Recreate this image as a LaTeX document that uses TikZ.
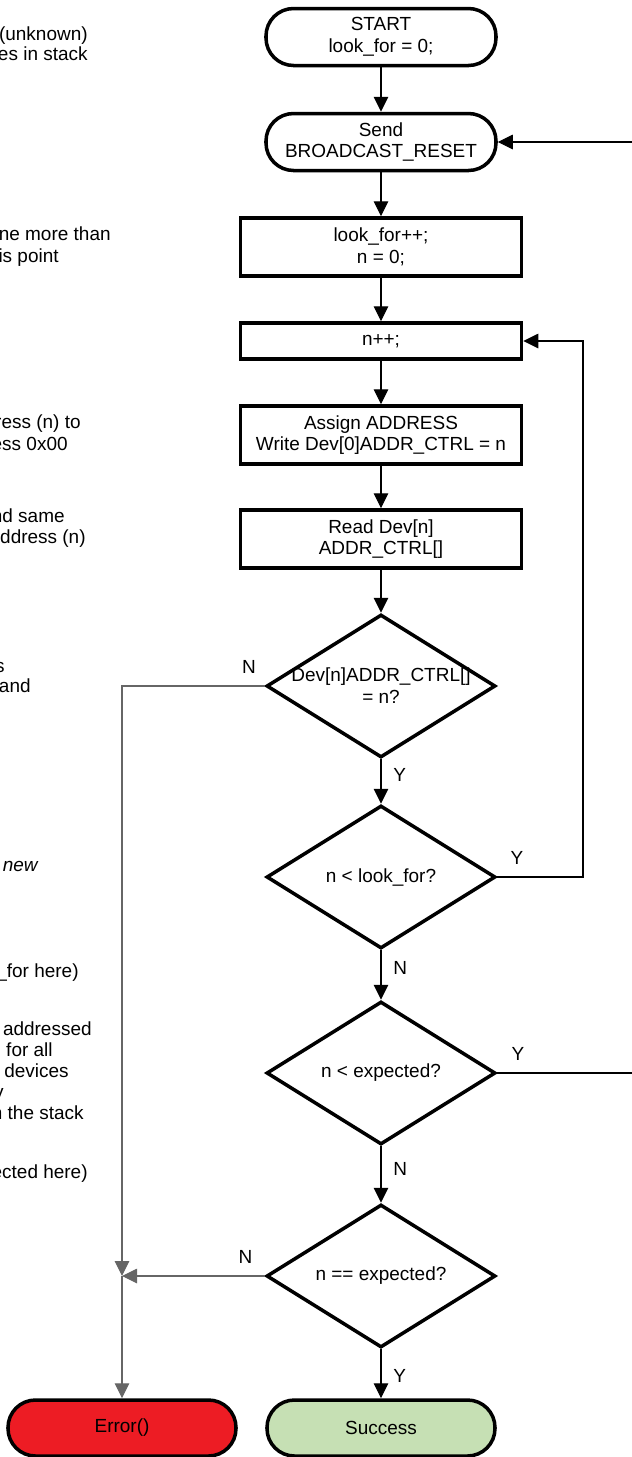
\documentclass[tikz,border=0pt]{standalone}
\usepackage{fontspec}
\setmainfont{Liberation Sans}
\usetikzlibrary{positioning,arrows.meta,shapes.geometric,calc}

\definecolor{errred}{RGB}{237,28,36}
\definecolor{okgreen}{RGB}{198,224,180}

\begin{document}
\begin{tikzpicture}[
    font=\fontsize{10.8}{12.4}\selectfont,
    terminal/.style={draw, line width=2pt, rounded corners=0.55cm, minimum width=4.6cm, minimum height=1.14cm, align=center},
    process/.style={draw, line width=2pt, minimum width=5.62cm, minimum height=1.16cm, align=center},
    decision/.style={draw, diamond, line width=2pt, minimum width=4.58cm, minimum height=2.86cm, aspect=1.6, inner sep=-2pt, align=center},
    arrow/.style={-{Triangle[length=0.3cm, width=0.29cm]}, line width=0.6pt},
    errline/.style={arrow, black!60},
    lbl/.style={inner sep=1pt},
    note/.style={anchor=base east, inner sep=0pt}
]

\useasboundingbox (0,0) rectangle (12.64,-29.14);
\clip (0,0) rectangle (12.64,-29.14);

% Main column
\node[terminal] (start) at (7.62,-0.74) {START\\look\_for = 0;};
\node[terminal] (send) at (7.62,-2.84) {Send\\BROADCAST\_RESET};
\node[process] (lookfor) at (7.62,-4.94) {look\_for++;\\n = 0;};
\node[process, minimum height=0.72cm] (npp) at (7.62,-6.82) {n++;};
\node[process] (assign) at (7.62,-8.70) {Assign ADDRESS\\Write Dev[0]ADDR\_CTRL = n};
\node[process] (read) at (7.62,-10.78) {Read Dev[n]\\ADDR\_CTRL[]};

% Decisions
\node[decision] (d1) at (7.62,-13.72) {Dev[n]ADDR\_CTRL[]\\= n?};
\node[decision] (d2) at (7.62,-17.54) {n < look\_for?};
\node[decision] (d3) at (7.62,-21.46) {n < expected?};
\node[decision] (d4) at (7.62,-25.52) {n == expected?};

% Ends
\node[terminal, minimum width=4.56cm, minimum height=1.12cm, fill=errred] (error) at (2.44,-28.56) {Error()};
\node[terminal, minimum width=4.56cm, minimum height=1.12cm, fill=okgreen] (success) at (7.62,-28.56) {Success};

% Helper points for the side lines
\coordinate (nloop) at (11.66,0);
\coordinate (rret) at (12.9,0);
\coordinate (join) at (error.north |- d4.west);

% Notes (cut at the left edge)
\node[note] (n1a) at (1.76,-0.80) {(unknown)};
\node[note] (n1b) at (1.76,-1.20) {es in stack};
\node[note] (n2a) at (2.22,-4.80) {ne more than};
\node[note] (n2b) at (1.18,-5.24) {is point};
\node[note] (n3a) at (1.62,-8.56) {ress (n) to};
\node[note] (n3b) at (1.36,-9.00) {ess 0x00};
\node[note] (n4a) at (1.30,-10.44) {nd same};
\node[note] (n4b) at (1.72,-10.86) {ddress (n)};
\node[note] (n5a) at (0.10,-13.44) {s};
\node[note] (n5b) at (0.62,-13.84) {and};
\node[note] (n6) at (0.78,-17.42) {\textit{new}};
\node[note] (n7) at (1.58,-19.54) {\_for here)};
\node[note] (n8a) at (1.84,-20.70) {addressed};
\node[note] (n8b) at (1.06,-21.12) {for all};
\node[note] (n8c) at (1.38,-21.54) {devices};
\node[note] (n8d) at (0.08,-21.96) {y};
\node[note] (n8e) at (1.68,-22.38) {n the stack};
\node[note] (n9) at (1.76,-23.56) {ected here)};

% Straight down
\draw[arrow] (start) -- (send);
\draw[arrow] (send) -- (lookfor);
\draw[arrow] (lookfor) -- (npp);
\draw[arrow] (npp) -- (assign);
\draw[arrow] (assign) -- (read);
\draw[arrow] (read) -- (d1);
\draw[arrow] (d1) -- node[lbl, right=0.2cm, pos=0.35] {Y} (d2);
\draw[arrow] (d2) -- node[lbl, right=0.2cm, pos=0.35] {N} (d3);
\draw[arrow] (d3) -- node[lbl, right=0.2cm, pos=0.4] {N} (d4);
\draw[arrow] (d4) -- node[lbl, right=0.2cm, pos=0.55] {Y} (success);

% Loops on the right
\draw[arrow] (d2.east) -- node[lbl, above=0.2cm, pos=0.23] {Y} (d2.east -| nloop) |- (npp.east);
\draw[arrow] (d3.east) -- node[lbl, above=0.2cm, pos=0.14] {Y} (d3.east -| rret) |- (send.east);

% Error path on the left
\draw[errline] (d1.west) -- node[lbl, above=0.2cm, pos=0.11, black] {N} (d1.west -| join) -- (join);
\draw[errline] (d4.west) -- node[lbl, above=0.2cm, pos=0.135, black] {N} (join);
\draw[errline] (join) -- (error.north);

\end{tikzpicture}
\end{document}
